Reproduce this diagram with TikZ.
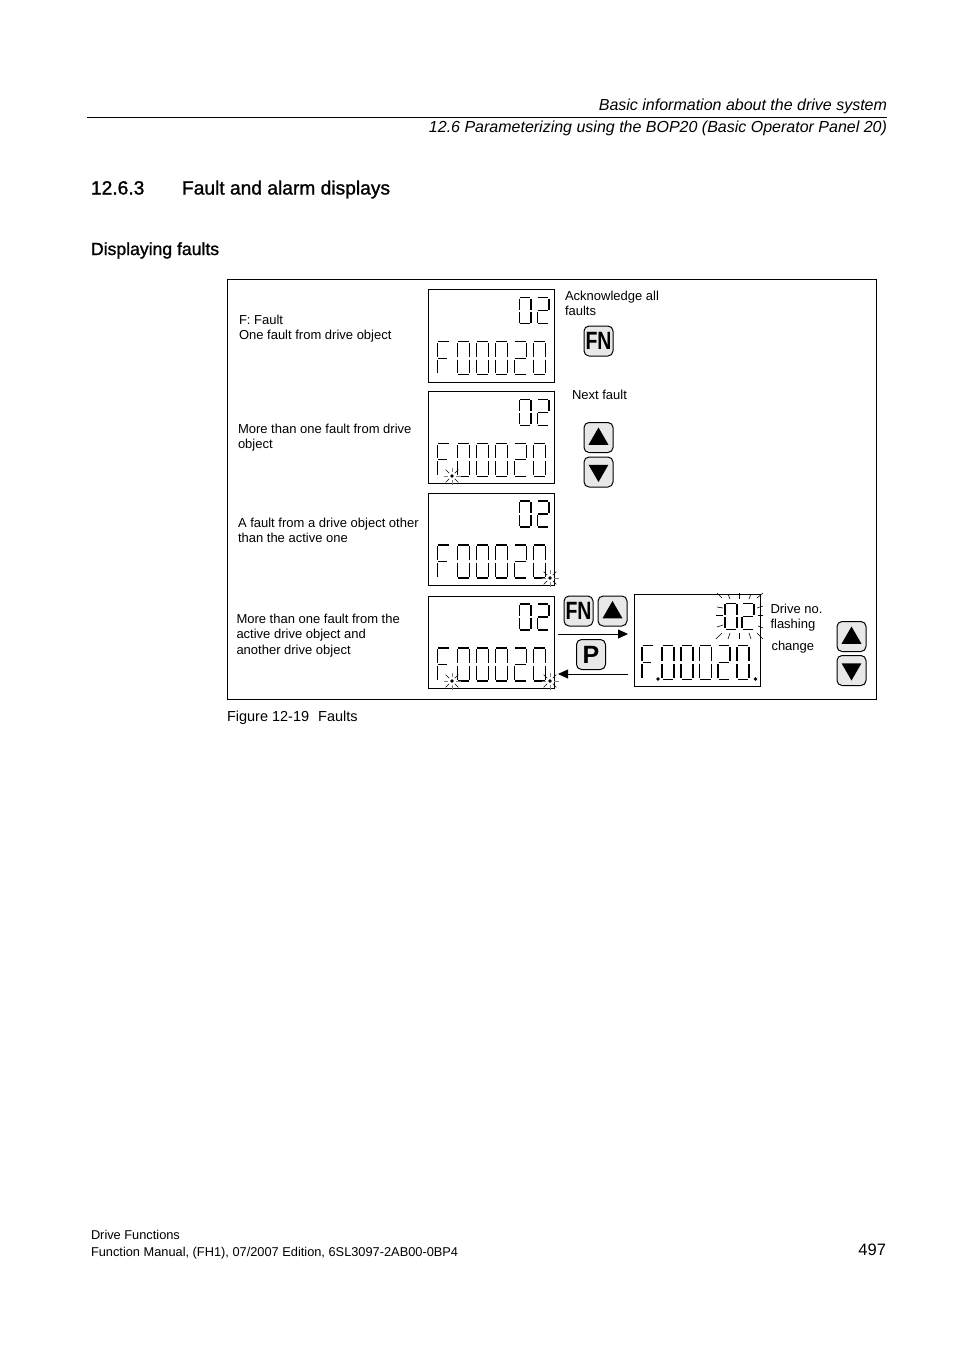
\documentclass[tikz,border=0pt]{standalone}
\usepackage{graphicx}
\usepackage{fontspec}
\setmainfont{Liberation Sans}
\newfontfamily\headfont[FakeBold=1.2]{Liberation Sans}
\usepackage{xcolor}
\usetikzlibrary{arrows.meta,positioning,shapes.geometric}
\definecolor{keygray}{RGB}{232,232,232}

% segment end points of one digit, x/y from 0 to 1
\def\digF{.08/0/.92/0, 0/.04/0/.46, 0/.54/0/.96, .08/.5/.75/.5}
\def\digO{.08/0/.92/0, 0/.04/0/.46, 0/.54/0/.96, 1/.04/1/.46, 1/.54/1/.96, .08/1/.92/1}
\def\digT{.08/0/.92/0, 1/.04/1/.46, .08/.5/.92/.5, 0/.54/0/.96, .08/1/.92/1}

\newcommand{\lcddigit}[5]{%
    \edef\seglist{\csname #5\endcsname}%
    \foreach \xa/\ya/\xb/\yb in \seglist {
        \draw[lcdline] (#1+#3*\xa,#2+#4*\ya) -- (#1+#3*\xb,#2+#4*\yb);
    }
}
% the two lines of a display, from the corner of its box
\newcommand{\lcdface}[1]{%
    \begin{scope}[shift={(#1.north west)}]
        \foreach \px/\dg in {91/digO,109/digT} {\lcddigit{\px}{8}{11.5}{26}{\dg}}
        \foreach \px/\dg in {9/digF,29/digO,48/digO,67/digO,86/digT,105/digO} {\lcddigit{\px}{52}{12}{33}{\dg}}
    \end{scope}
}
\newcommand{\flashmark}[2]{%
    \fill (#1,#2) circle (1.9pt);
    \foreach \ang in {45,135,225,315} {\draw[lcdtick] (#1,#2) ++(\ang:4) -- ++(\ang:5);}
    \foreach \ang in {0,90,180,270} {\draw[lcdtick,gray] (#1,#2) ++(\ang:4) -- ++(\ang:4.5);}
}

\begin{document}
\begin{tikzpicture}[
        x=1pt, y=-1pt,
        every node/.style={inner sep=0, outer sep=0},
        lcdbox/.style={draw, line width=0.7, minimum width=126, minimum height=92.5},
        lcdline/.style={line width=1.2},
        lcdtick/.style={line width=0.6},
        keybox/.style={draw, line width=1, rounded corners=5, fill=keygray, minimum width=29, minimum height=30},
        keylabel/.style={font=\bfseries\fontsize{25}{25}\selectfont},
        tri/.style={regular polygon, regular polygon sides=3, fill=black, minimum size=23},
        txt/.style={anchor=north west, align=left, font=\fontsize{13}{15.5}\selectfont},
        arr/.style={-{Triangle[length=10, width=9]}, line width=0.8}
    ]
    \useasboundingbox (0,0) rectangle (954,1350);

    % page text
    \node[anchor=base east, font=\itshape\fontsize{16}{18}\selectfont] (headA) at (887,110) {Basic information about the drive system};
    \node[anchor=base east, font=\itshape\fontsize{16}{18}\selectfont] (headB) at (887,132) {12.6 Parameterizing using the BOP20 (Basic Operator Panel 20)};
    \draw[line width=0.8] (87,117.5) -- (887,117.5);
    \node[anchor=base west, font=\headfont\fontsize{19.2}{20}\selectfont] (secno) at (91,194.5) {12.6.3};
    \node[anchor=base west, font=\headfont\fontsize{19.2}{20}\selectfont] (sectitle) at (182,194.5) {Fault and alarm displays};
    \node[anchor=base west, font=\headfont\fontsize{17.6}{20}\selectfont] (subtitle) at (91,255) {Displaying faults};

    \draw[line width=0.7] (227.5,279.5) rectangle (876.5,699.5);

    % displays
    \node[lcdbox] (dispA) at (491.5,336) {};
    \node[lcdbox, below=9pt of dispA] (dispB) {};
    \node[lcdbox, below=9.25pt of dispB] (dispC) {};
    \node[lcdbox, below=10.5pt of dispC] (dispD) {};
    \node[lcdbox] (dispE) at (697,640.5) {};
    \lcdface{dispA}
    \lcdface{dispB}
    \lcdface{dispC}
    \lcdface{dispD}

    \begin{scope}[shift={(dispE.north west)}]
        \foreach \px/\dg in {91/digO,108/digT} {\lcddigit{\px}{9}{12}{26}{\dg}}
        \foreach \px/\dg in {8/digF,28/digO,47/digO,65.5/digO,84/digT,103/digO} {\lcddigit{\px}{51}{12}{34}{\dg}}
    \end{scope}
    \fill (658,679) circle (1.9pt);
    \fill (755.5,679) circle (1.9pt);

    % flashing marks
    \flashmark{452}{476}
    \flashmark{550}{578}
    \flashmark{452}{681}
    \flashmark{550}{681}

    % rays round the drive number
    \foreach \xa/\ya/\xb/\yb in {717/593/722/598, 728/594/730/599, 739/593/739/599, 751/594/749/599, 763/593/757/598,
        717/607/723/608, 716/615/723/615, 717/627/723/625, 757/608/763/606, 758/615/763/615, 758/626/763/628,
        716/639/722/633, 728/639/730/633, 739/639/739/633, 751/639/749/633, 763/639/757/633} {
        \draw[lcdtick] (\xa,\ya) -- (\xb,\yb);
    }

    % keys
    \node[keybox, keylabel] (keyFnA) at (598.5,341) {\scalebox{0.78}[1]{FN}};
    \node[keybox] (keyUpA) at (598.5,437.5) {};
    \node[keybox] (keyDownA) at (598.5,472) {};
    \node[keybox, keylabel] (keyFnB) at (578.5,611) {\scalebox{0.78}[1]{FN}};
    \node[keybox] (keyUpB) at (612.5,611) {};
    \node[keybox, keylabel] (keyP) at (591,654.5) {P};
    \node[keybox] (keyUpC) at (851.5,636.5) {};
    \node[keybox] (keyDownC) at (851.5,670.5) {};

    \node[tri] at ([yshift=-1.5pt]keyUpA) {};
    \node[tri, shape border rotate=180] at ([yshift=1.5pt]keyDownA) {};
    \node[tri] at ([yshift=-1.5pt]keyUpB) {};
    \node[tri] at ([yshift=-1.5pt]keyUpC) {};
    \node[tri, shape border rotate=180] at ([yshift=1.5pt]keyDownC) {};

    % arrows between the displays
    \coordinate (fwdFrom) at (558,634);
    \coordinate (fwdTo) at (628,634);
    \coordinate (backFrom) at (628,674);
    \coordinate (backTo) at (558,674);
    \draw[arr] (fwdFrom) -- (fwdTo);
    \draw[arr] (backFrom) -- (backTo);

    % labels
    \node[txt] (lblA) at (239,315) {F: Fault\\One fault from drive object};
    \node[txt] (lblB) at (238,424) {More than one fault from drive\\object};
    \node[txt] (lblC) at (238,518) {A fault from a drive object other\\than the active one};
    \node[txt] (lblD) at (236.5,614) {More than one fault from the\\active drive object and\\another drive object};
    \node[txt] (lblAck) at (565,291) {Acknowledge all\\faults};
    \node[txt] (lblNext) at (572,390) {Next fault};
    \node[txt] (lblDrive) at (770.5,604) {Drive no.\\flashing};
    \node[txt] (lblChange) at (771.5,641) {change};
    \node[txt, font=\fontsize{14.5}{16}\selectfont] (lblFig) at (227,711) {Figure 12-19\hspace{9pt}Faults};

    % footer
    \node[txt, font=\fontsize{12.8}{17}\selectfont] (footer) at (91,1230) {Drive Functions\\Function Manual, (FH1), 07/2007 Edition, 6SL3097-2AB00-0BP4};
    \node[anchor=base east, font=\fontsize{16.5}{17}\selectfont] (pageno) at (886,1255.5) {497};
\end{tikzpicture}
\end{document}
